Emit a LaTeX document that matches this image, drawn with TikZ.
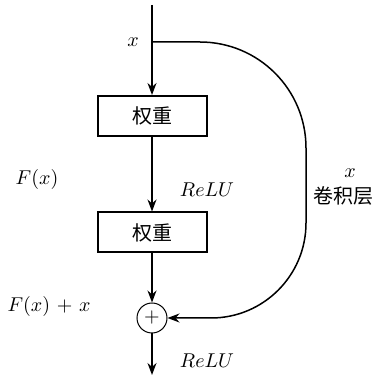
\documentclass[tikz,border=0pt]{standalone}
\usepackage{amsmath}
\usepackage{fontspec}
\usetikzlibrary{arrows.meta}
\newfontfamily\cjk{Noto Sans CJK SC}
\tikzset{
  flecha/.style  = {-{Stealth[length=6pt, width=4.5pt]}, black, line width=0.75pt},
  bloque/.style  = {draw, line width=1pt, minimum width=54.5pt, minimum height=20pt, inner sep=0pt, font=\cjk},
  suma/.style    = {draw, circle, line width=0.5pt, minimum size=15pt, inner sep=0pt},
  etiqueta/.style = {font=\normalsize}
}

\begin{document}
\begin{tikzpicture}[x=0.5pt, y=0.5pt]
  \useasboundingbox (0,0) rectangle (379,380);

  \coordinate (entrada) at (152,375);
  \coordinate (rama) at (152,338);
  \coordinate (salida) at (152,5);

  \node[bloque] (peso1) at (152,264) {权重};
  \node[bloque] (peso2) at (152,147.5) {权重};
  \node[suma] (suma) at (152,62) {$+$};

  \draw[flecha] (entrada) -- (peso1);
  \draw[flecha] (peso1) -- (peso2);
  \draw[flecha] (peso2) -- (suma);
  \draw[flecha] (suma) -- (salida);

  % atajo
  \draw[flecha] (rama) -- (200,338) arc[start angle=90, end angle=0, radius=106]
    -- (306,157) arc[start angle=0, end angle=-90, radius=95] -- (suma);

  \node[etiqueta] (xin) at (133,338) {$x$};
  \node[etiqueta] (fx) at (37,200) {$F(x)$};
  \node[etiqueta] (relu1) at (207,190) {$ReLU$};
  \node[etiqueta] (xder) at (350,207) {$x$};
  \node[font=\cjk] (conv) at (343,184) {卷积层};
  \node[etiqueta] (fxx) at (49,73) {$F(x)$ + $x$};
  \node[etiqueta] (relu2) at (207,19) {$ReLU$};
\end{tikzpicture}
\end{document}
